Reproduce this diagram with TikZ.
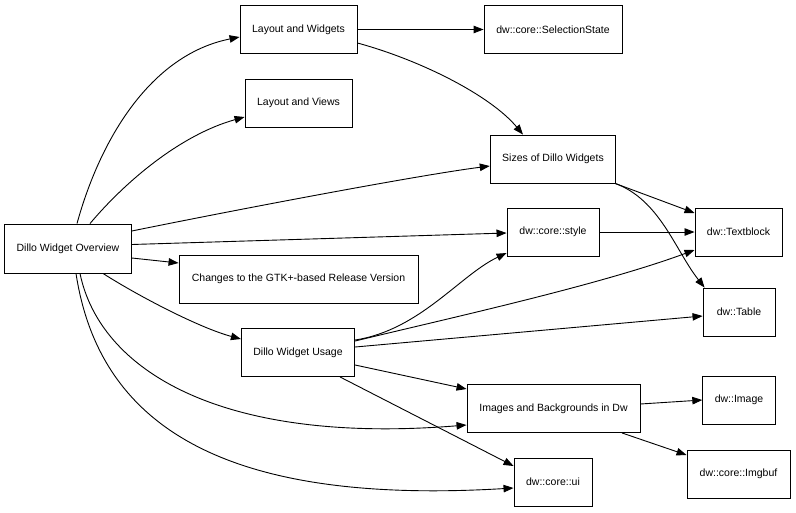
\documentclass[tikz,border=0pt]{standalone}
\usepackage{fontspec}
\setmainfont{Liberation Sans}
\usetikzlibrary{arrows.meta}

\begin{document}
\begin{tikzpicture}[
    x=1pt, y=-1pt,
    docBox/.style={draw, line width=0.9pt, minimum height=48pt, inner xsep=12pt},
    every node/.style={
        text centered,
        font=\fontsize{10.5}{12}\selectfont,
        },
    every path/.style={line width=0.9pt},
    >={Triangle[length=10pt, width=7.5pt]}
        ]
    \useasboundingbox (0, 0) rectangle (796, 512);

    \node[docBox, minimum width=126pt, minimum height=49pt] (overview) at (68, 248.5) {Dillo Widget Overview};

    \node[docBox, minimum width=117pt] (layoutWidgets) at (298.5, 29.5) {Layout and Widgets};
    \node[docBox, minimum width=138pt] (selection) at (553, 29.5) {dw::core::SelectionState};
    \node[docBox, minimum width=107pt] (layoutViews) at (298.5, 103) {Layout and Views};
    \node[docBox, minimum width=122pt] (sizes) at (553, 159) {Sizes of Dillo Widgets};
    \node[docBox, minimum width=92pt] (style) at (553, 232) {dw::core::style};
    \node[docBox, minimum width=87pt] (textblock) at (738.5, 232) {dw::Textblock};
    \node[docBox, minimum width=239pt] (changes) at (298.5, 279) {Changes to the GTK+-based Release Version};
    \node[docBox, minimum width=72pt] (table) at (739, 312) {dw::Table};
    \node[docBox, minimum width=112pt] (usage) at (298, 352.5) {Dillo Widget Usage};
    \node[docBox, minimum width=173pt] (images) at (553.5, 408.5) {Images and Backgrounds in Dw};
    \node[docBox, minimum width=72pt] (image) at (739, 400) {dw::Image};
    \node[docBox, minimum width=103pt] (imgbuf) at (738.5, 474) {dw::core::Imgbuf};
    \node[docBox, minimum width=78pt] (ui) at (553, 482) {dw::core::ui};

    % from the overview
    \draw[->] ([xshift=9pt]overview.north) .. controls (100, 140) and (150, 55) .. ([yshift=-7.5pt]layoutWidgets.west);
    \draw[->] ([xshift=22pt]overview.north) .. controls (125, 182) and (180, 135) .. ([yshift=-14pt]layoutViews.west);
    \draw[->] ([yshift=17.5pt]overview.east) .. controls (250, 207) and (420, 175) .. ([yshift=-7pt]sizes.west);
    \draw[->] ([yshift=4pt]overview.east) -- ([yshift=-1pt]style.west);
    \draw[->] ([yshift=-9.5pt]overview.east) -- ([yshift=16pt]changes.west);
    \draw[->] ([xshift=35pt]overview.south) .. controls (140, 297) and (200, 328) .. ([yshift=13.5pt]usage.west);
    \draw[->] ([xshift=12pt]overview.south) .. controls (100, 370) and (220, 445) .. ([yshift=-16.5pt]images.west);
    \draw[->] ([xshift=8pt]overview.south) .. controls (100, 430) and (230, 505) .. ([yshift=-6pt]ui.west);

    % layout and widgets
    \draw[->] (layoutWidgets.east) -- (selection.west);
    \draw[->] ([yshift=-13.5pt]layoutWidgets.east) .. controls (420, 60) and (490, 95) .. ([xshift=-30pt]sizes.north);

    % sizes and style
    \draw[->] ([xshift=-1pt]sizes.south east) -- ([yshift=19pt]textblock.west);
    \draw[->] ([xshift=-1pt]sizes.south east) .. controls (660, 200) and (675, 250) .. ([xshift=2pt]table.north west);
    \draw[->] (style.east) -- (textblock.west);

    % from the usage
    \draw[->] ([yshift=12.5pt]usage.east) .. controls (420, 330) and (460, 275) .. ([yshift=-21pt]style.west);
    \draw[->] ([yshift=11.5pt]usage.east) .. controls (450, 318) and (600, 285) .. ([yshift=-18pt]textblock.west);
    \draw[->] ([yshift=5.5pt]usage.east) -- ([yshift=-4pt]table.west);
    \draw[->] ([yshift=-12.5pt]usage.east) -- ([yshift=19.5pt]images.west);
    \draw[->] ([xshift=42pt]usage.south) -- ([yshift=16pt]ui.west);

    % images
    \draw[->] ([yshift=4.5pt]images.east) -- (image.west);
    \draw[->] ([xshift=68.5pt]images.south) -- ([yshift=19pt]imgbuf.west);
\end{tikzpicture}
\end{document}
